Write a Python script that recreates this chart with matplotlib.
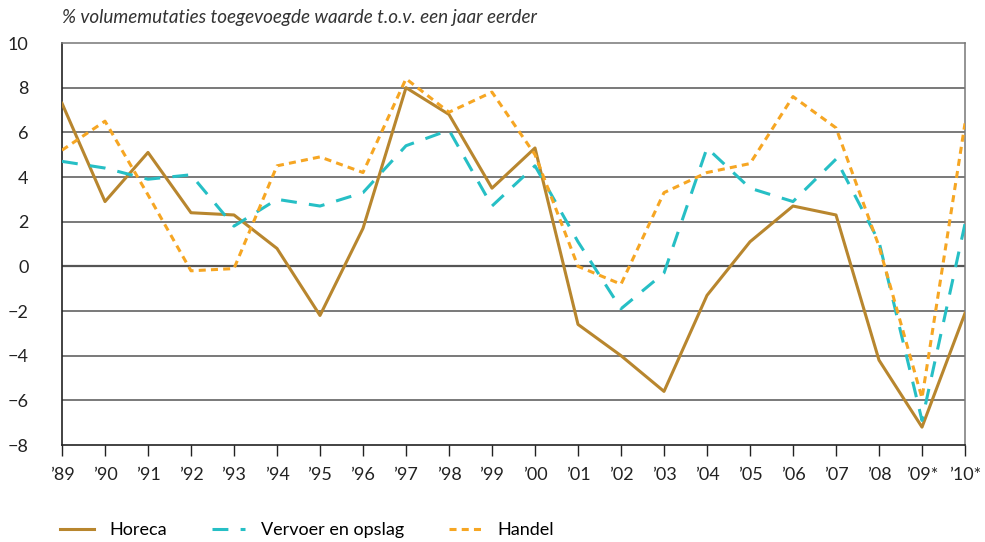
import matplotlib.pyplot as plt
from matplotlib.lines import Line2D

plt.rcParams['font.family'] = ['Lato', 'DejaVu Sans']

years = ["’89", "’90", "’91", "’92", "’93", "’94", "’95", "’96", "’97", "’98", "’99",
         "’00", "’01", "’02", "’03", "’04", "’05", "’06", "’07", "’08", "’09*", "’10*"]

horeca = [7.3, 2.9, 5.1, 2.4, 2.3, 0.8, -2.2, 1.7, 8.0, 6.8, 3.5,
          5.3, -2.6, -4.0, -5.6, -1.3, 1.1, 2.7, 2.3, -4.2, -7.2, -2.1]
vervoer = [4.7, 4.4, 3.9, 4.1, 1.8, 3.0, 2.7, 3.3, 5.4, 6.1, 2.7,
           4.5, 1.1, -1.9, -0.3, 5.3, 3.5, 2.9, 4.8, 1.1, -6.9, 1.9]
handel = [5.2, 6.5, 3.2, -0.2, -0.1, 4.5, 4.9, 4.2, 8.4, 6.9, 7.8,
          5.0, 0.0, -0.8, 3.3, 4.2, 4.6, 7.6, 6.2, 0.9, -5.9, 6.4]

c_horeca = "#B8862E"
c_vervoer = "#26BFC5"
c_handel = "#F6A623"
dash_vervoer = (5.2, 4.0)
dash_handel = (2.3, 1.7)

fig = plt.figure(figsize=(9.85, 5.42), dpi=100)
ax = fig.add_axes([62 / 985, 1 - 445 / 542, 903 / 985, 402 / 542])

x = list(range(len(years)))

# grid lines
for v in range(-6, 10, 2):
    ax.axhline(v, color="#555555", lw=1.6 if v == 0 else 1.1, zorder=1)

ax.plot(x, horeca, color=c_horeca, lw=2.2, zorder=3)
ax.plot(x, vervoer, color=c_vervoer, lw=2.2, dashes=dash_vervoer, zorder=3)
ax.plot(x, handel, color=c_handel, lw=2.2, dashes=dash_handel, zorder=3)

ax.set_xlim(0, len(years) - 1)
ax.set_ylim(-8, 10)
ax.set_yticks(range(-8, 11, 2))
ax.set_yticklabels([str(v).replace("-", "−") for v in range(-8, 11, 2)])
ax.set_xticks(x)
ax.set_xticklabels(years)

ax.tick_params(axis="y", length=0, pad=24, labelsize=13, colors="#222222")
ax.tick_params(axis="x", length=8, width=1, direction="out", pad=8,
               labelsize=13, colors="#222222")

for side in ["top", "right"]:
    ax.spines[side].set_color("#777777")
    ax.spines[side].set_linewidth(1.1)
for side in ["left", "bottom"]:
    ax.spines[side].set_color("#222222")
    ax.spines[side].set_linewidth(1.2)

fig.text(62 / 985, 1 - 18 / 542, "% volumemutaties toegevoegde waarde t.o.v. een jaar eerder",
         fontsize=13.6, style="italic", color="#333333", va="center", ha="left")

handles = [
    Line2D([], [], color=c_horeca, lw=2.2),
    Line2D([], [], color=c_vervoer, lw=2.2, dashes=dash_vervoer),
    Line2D([], [], color=c_handel, lw=2.2, dashes=dash_handel),
]
fig.legend(handles, ["Horeca", "Vervoer en opslag", "Handel"],
           loc="center left", bbox_to_anchor=(44 / 985, 1 - 530 / 542),
           ncol=3, frameon=False, fontsize=13, handlelength=1.85,
           columnspacing=2.5, handletextpad=0.85)

fig.savefig("out.png", dpi=100)
